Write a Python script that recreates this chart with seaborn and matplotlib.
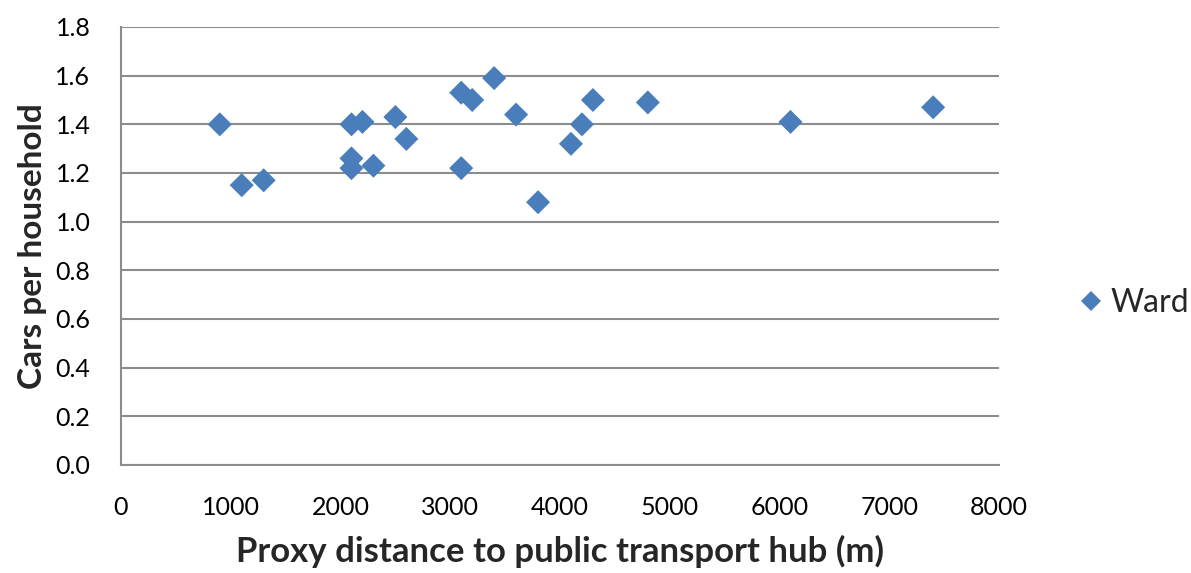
import matplotlib
matplotlib.use("Agg")
import matplotlib.pyplot as plt
import seaborn as sns
import pandas as pd

distance_m = [900, 1100, 1300, 2100, 2100, 2100, 2200, 2300, 2500, 2600,
              3100, 3100, 3200, 3400, 3600, 3800, 4100, 4200, 4300, 4800,
              6100, 7400]
cars_per_household = [1.40, 1.15, 1.17, 1.40, 1.26, 1.22, 1.41, 1.23, 1.43, 1.34,
                      1.53, 1.22, 1.50, 1.59, 1.44, 1.08, 1.32, 1.40, 1.50, 1.49,
                      1.41, 1.47]
series_name = "Ward"
x_ticks = [0, 1000, 2000, 3000, 4000, 5000, 6000, 7000, 8000]
y_ticks = [0.0, 0.2, 0.4, 0.6, 0.8, 1.0, 1.2, 1.4, 1.6, 1.8]

df = pd.DataFrame({"dist": distance_m, "cars": cars_per_household,
                   "series": [series_name] * len(distance_m)})

sns.set_theme(style="white")
plt.rcParams["font.family"] = ["Lato", "DejaVu Sans"]

fig = plt.figure(figsize=(11.91, 5.73), dpi=100)
ax = fig.add_axes([121 / 1191, 1 - 465 / 573, (999 - 121) / 1191, (465 - 27) / 573])

sns.scatterplot(data=df, x="dist", y="cars", hue="series", palette=["#4A7EBB"],
                marker="D", s=150, edgecolor="none", linewidth=0, ax=ax, zorder=3)

ax.set_xlim(0, 8000)
ax.set_ylim(0, 1.8)
ax.set_xticks(x_ticks)
ax.set_xticklabels([str(v) for v in x_ticks])
ax.set_yticks(y_ticks)
ax.set_yticklabels([f"{v:.1f}" for v in y_ticks])
ax.yaxis.grid(True, color="#8C8C8C", linewidth=1.5)
ax.xaxis.grid(False)
for side in ["top", "right"]:
    ax.spines[side].set_visible(False)
for side in ["left", "bottom"]:
    ax.spines[side].set_color("#8C8C8C")
    ax.spines[side].set_linewidth(1.5)
ax.tick_params(axis="x", length=0, pad=22, labelsize=18, colors="black")
ax.tick_params(axis="y", length=0, pad=22, labelsize=18, colors="black")

ax.set_xlabel("Proxy distance to public transport hub (m)", fontsize=25,
              fontweight="bold", labelpad=12)
ax.set_ylabel("Cars per household", fontsize=24, fontweight="bold", labelpad=6)

leg = ax.legend(loc="center left", bbox_to_anchor=(1.087, 0.37), frameon=False,
                fontsize=23, handletextpad=0.1, handlelength=1.0,
                borderpad=0, borderaxespad=0, markerscale=0.8)

fig.savefig("out.png", dpi=100)
